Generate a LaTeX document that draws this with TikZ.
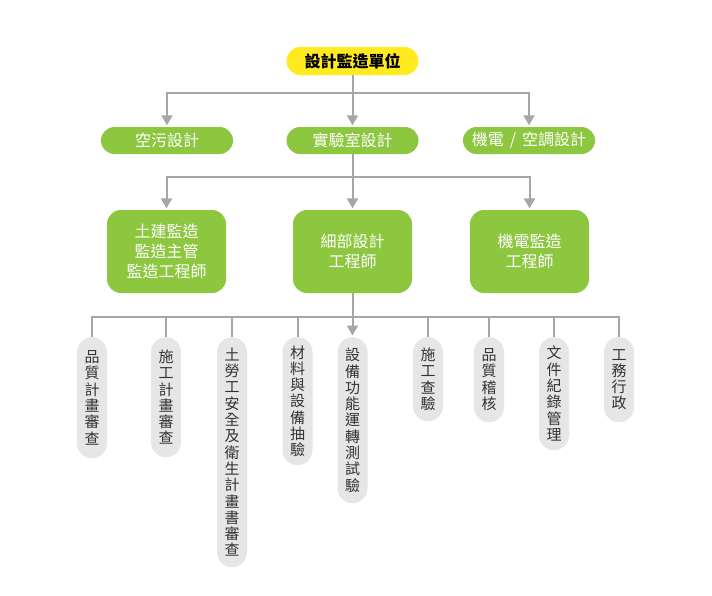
\documentclass[tikz,border=0pt]{standalone}
\usepackage{fontspec}
\newfontfamily\cjk{Noto Sans CJK TC}
\usetikzlibrary{arrows.meta}
\definecolor{lgreen}{HTML}{8DC63F}
\definecolor{yel}{HTML}{FFEB1F}
\definecolor{pillgray}{HTML}{E6E6E6}
\definecolor{linegray}{HTML}{A6A6A6}
\definecolor{txtgray}{HTML}{333333}
\begin{document}
\begin{tikzpicture}[x=1pt,y=-1pt,
 conn/.style={draw=linegray,line width=2pt},
 arr/.style={conn,-{Triangle[width=11pt,length=10pt]},shorten >=1.5pt},
 toppill/.style={fill=yel,rounded corners=14pt,minimum width=132pt,minimum height=28pt,font=\cjk\bfseries\fontsize{16}{20}\selectfont,text=black,inner sep=0pt},
 midpill/.style={fill=lgreen,rounded corners=13.5pt,minimum width=132pt,minimum height=27pt,font=\cjk\fontsize{16}{20}\selectfont,text=white,inner sep=0pt},
 gbox/.style={fill=lgreen,rounded corners=14pt,minimum width=119pt,minimum height=83pt,font=\cjk\fontsize{16}{20}\selectfont,text=white,align=center,inner sep=0pt},
 vpill/.style={fill=pillgray,rounded corners=15pt,minimum width=30pt,minimum height=#1,anchor=north,font=\cjk\fontsize{15}{16.3}\selectfont,text=txtgray,align=center,inner sep=0pt}
]
\useasboundingbox (0,0) rectangle (712,595);
\fill[white] (0,0) rectangle (712,595);

\node[toppill] (top) at (352.5,61) {設計監造單位};
\node[midpill] (kong) at (167,140.5) {空污設計};
\node[midpill] (lab) at (352.5,140.5) {實驗室設計};
\node[midpill] (mep) at (529,140.5) {機電\hspace{6pt}/\hspace{6pt}空調設計};

\node[gbox] (civil) at (166.5,251.5) {土建監造\\監造主管\\監造工程師};
\node[gbox] (detail) at (352.5,251.5) {細部設計\\工程師};
\node[gbox] (mepsup) at (529.5,251.5) {機電監造\\工程師};

\node[vpill=121pt] (p1) at (92,337) {品\\質\\計\\畫\\審\\查};
\node[vpill=120pt] (p2) at (166,337) {施\\工\\計\\畫\\審\\查};
\node[vpill=230pt] (p3) at (232,337) {土\\勞\\工\\安\\全\\及\\衛\\生\\計\\畫\\書\\審\\查};
\node[vpill=128pt] (p4) at (297.5,337) {材\\料\\與\\設\\備\\抽\\驗};
\node[vpill=166pt] (p5) at (352.5,337) {設\\備\\功\\能\\運\\轉\\測\\試\\驗};
\node[vpill=84pt] (p6) at (428,337) {施\\工\\查\\驗};
\node[vpill=85pt] (p7) at (489,337) {品\\質\\稽\\核};
\node[vpill=113pt] (p8) at (554,337) {文\\件\\紀\\錄\\管\\理};
\node[vpill=85pt] (p9) at (619,337) {工\\務\\行\\政};

\coordinate (j1) at (352.5,93);
\coordinate (j2) at (352.5,177);
\coordinate (j3) at (352.5,317);

\draw[conn] (top.south) -- (j1);
\draw[arr] (j1) -| (kong.north);
\draw[arr] (j1) -- (lab.north);
\draw[arr] (j1) -| (mep.north);

\draw[conn] (lab.south) -- (j2);
\draw[arr] (j2) -| (civil.north);
\draw[arr] (j2) -- (detail.north);
\draw[arr] (j2) -| (mepsup.north);

\draw[conn] (p1.north) |- (p9.north |- j3) -- (p9.north);
\draw[conn] (p2.north |- j3) -- (p2.north);
\draw[conn] (p3.north |- j3) -- (p3.north);
\draw[conn] (p4.north |- j3) -- (p4.north);
\draw[conn] (p6.north |- j3) -- (p6.north);
\draw[conn] (p7.north |- j3) -- (p7.north);
\draw[conn] (p8.north |- j3) -- (p8.north);
\draw[arr] (detail.south) -- (p5.north);
\end{tikzpicture}
\end{document}
